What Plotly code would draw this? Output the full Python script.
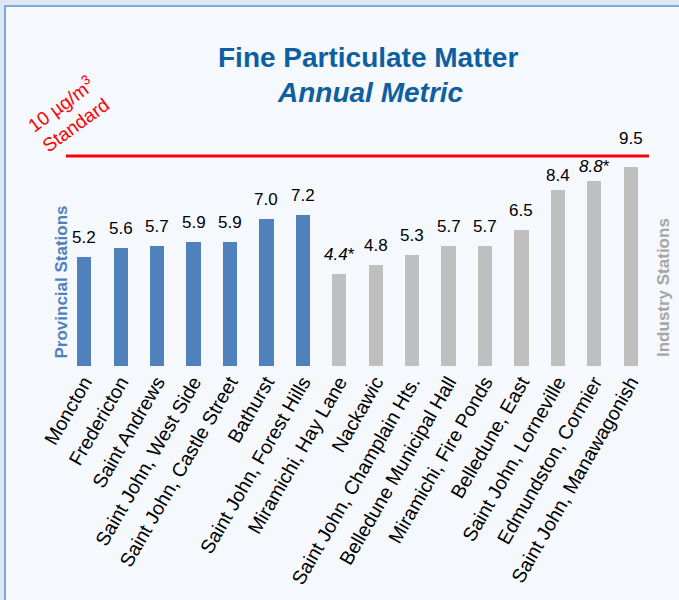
import plotly.graph_objects as go

stations = ["Moncton", "Fredericton", "Saint Andrews", "Saint John, West Side",
            "Saint John, Castle Street", "Bathurst", "Saint John, Forest Hills",
            "Miramichi, Hay Lane", "Nackawic", "Saint John, Champlain Hts.",
            "Belledune Municipal Hall", "Miramichi, Fire Ponds", "Belledune, East",
            "Saint John, Lorneville", "Edmundston, Cormier", "Saint John, Manawagonish"]
values = [5.2, 5.6, 5.7, 5.9, 5.9, 7.0, 7.2, 4.4, 4.8, 5.3, 5.7, 5.7, 6.5, 8.4, 8.8, 9.5]
group = ["Provincial"] * 7 + ["Industry"] * 9
flagged = [False] * 7 + [True] + [False] * 6 + [True, False]
standard = 10

# label gap above each bar (style only)
label_gap = [12] * 13 + [7, 7, 21]

W, H = 679, 600
L, R, T, B = 66, 30, 135, 234
PW, PH = W - L - R, H - T - B
FONT = "Liberation Sans, Arial, sans-serif"

def px(x):
    return (x - L) / PW

def py(y):
    return (H - B - y) / PH

colors = ["#4f81bd" if g == "Provincial" else "#bfbfbf" for g in group]
texts = [f"<i>{v:.1f}</i>*" if f else f"{v:.1f}" for v, f in zip(values, flagged)]

fig = go.Figure()
fig.add_trace(go.Bar(
    x=stations, y=values, marker_color=colors, marker_line_width=0,
    width=0.39, hoverinfo="x+y",
))

for s, v, t, g in zip(stations, values, texts, label_gap):
    fig.add_annotation(x=s, y=v, xref="x", yref="y", text=t, showarrow=False,
                       xanchor="center", yanchor="bottom", yshift=g - 4,
                       font=dict(family=FONT, size=17, color="#000000"))

fig.add_shape(type="rect", xref="paper", yref="paper",
              x0=px(5), x1=px(W + 10), y0=py(6), y1=py(H + 10),
              fillcolor="#f5f8fc", line=dict(color="#7ea9da", width=2), layer="below")
fig.add_shape(type="line", xref="paper", yref="y", x0=0, x1=1,
              y0=standard, y1=standard, line=dict(color="#ff0000", width=3))

fig.add_annotation(xref="paper", yref="paper", x=px(368), y=py(57),
                   xanchor="center", yanchor="middle",
                   text="<b>Fine Particulate Matter</b>", showarrow=False,
                   font=dict(family=FONT, size=28, color="#0e5fa0"))
fig.add_annotation(xref="paper", yref="paper", x=px(370), y=py(92),
                   xanchor="center", yanchor="middle",
                   text="<b><i>Annual Metric</i></b>", showarrow=False,
                   font=dict(family=FONT, size=28, color="#0e5fa0"))
fig.add_annotation(xref="paper", yref="paper", x=px(67), y=py(114),
                   xanchor="center", yanchor="middle",
                   text="10 µg/m<sup>3</sup><br>Standard", showarrow=False,
                   textangle=-36, align="center",
                   font=dict(family=FONT, size=19, color="#ff0000"))
fig.add_annotation(xref="paper", yref="paper", x=px(60.5), y=py(282),
                   xanchor="center", yanchor="middle",
                   text="<b>Provincial Stations</b>", showarrow=False, textangle=-90,
                   font=dict(family=FONT, size=17, color="#4f81bd"))
fig.add_annotation(xref="paper", yref="paper", x=px(663), y=py(288),
                   xanchor="center", yanchor="middle",
                   text="<b>Industry Stations</b>", showarrow=False, textangle=-90,
                   font=dict(family=FONT, size=17, color="#a6a6a6"))

fig.update_layout(
    width=W, height=H, margin=dict(l=L, r=R, t=T, b=B, autoexpand=False),
    paper_bgcolor="#dde7f4", plot_bgcolor="rgba(0,0,0,0)",
    showlegend=False, bargap=0,
    xaxis=dict(tickangle=-60, showgrid=False, showline=False, zeroline=False,
               range=[-0.5, 15.5], ticks="",
               tickfont=dict(family=FONT, size=19.5, color="#000000")),
    yaxis=dict(range=[0, 11], visible=False, showgrid=False, zeroline=False),
)

fig.write_html("out.html", config={"displayModeBar": False},
               post_script="document.body.style.margin='0px';")
